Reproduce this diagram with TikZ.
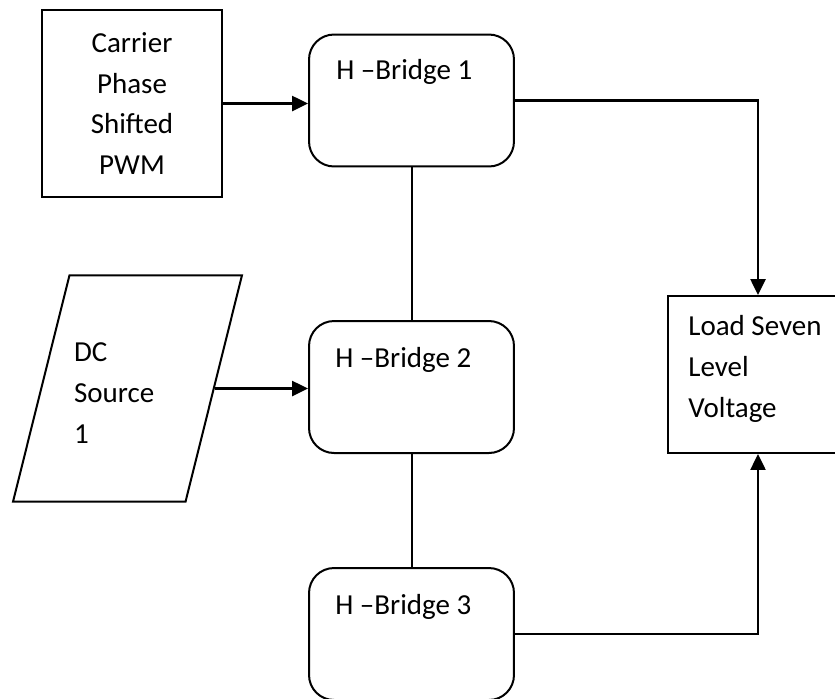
\documentclass[tikz,border=0pt]{standalone}
\usepackage{fontspec}
\setmainfont{Carlito}
\usetikzlibrary{shapes.geometric, arrows.meta, positioning}

\begin{document}
\begin{tikzpicture}[
  x=0.02cm, y=-0.02cm,
  every node/.style={font={\fontsize{16.5}{23.3}\selectfont}},
  blk/.style={draw, line width=0.04cm, inner sep=0pt},
  src/.style={blk, rectangle, minimum width=3.6cm, minimum height=3.74cm, align=center},
  bridge/.style={blk, rectangle, rounded corners=0.5cm, minimum width=4.1cm, minimum height=2.64cm},
  dcin/.style={blk, trapezium, trapezium left angle=76, trapezium right angle=104,
               trapezium stretches body=true, inner xsep=0pt, inner ysep=1.16cm,
               text height=0.57cm, minimum width=4.58cm, text width=2.14cm, align=left},
  ld/.style={blk, rectangle, minimum width=3.6cm, minimum height=3.14cm},
  txt/.style={inner sep=0pt, align=left},
  arr/.style={line width=0.05cm, -{Triangle[length=0.32cm, width=0.3cm]}},
  wire/.style={line width=0.04cm}
]
\useasboundingbox (0,0) rectangle (835,698);
\clip (0,0) rectangle (835,698);
% Inputs
\node[src]  (carrier) at (132,103.5) {Carrier\\Phase\\Shifted\\PWM};
\node[dcin] (dc)      at (127.5,388.5) {DC\\Source\\1};
% Bridges
\node[bridge] (hb1) at (411.5,100.5) {};
\node[bridge] (hb2) at (411.5,387) {};
\node[bridge] (hb3) at (411.5,634) {};
\node[txt, below right=0.52cm and 0.56cm of hb1.north west] (hb1txt) {H –Bridge 1};
\node[txt, below right=0.54cm and 0.54cm of hb2.north west] (hb2txt) {H –Bridge 2};
\node[txt, below right=0.54cm and 0.54cm of hb3.north west] (hb3txt) {H –Bridge 3};
% Load
\node[ld] (load) at (758,374.5) {};
\node[txt, below right=0.4cm and 0.42cm of load.north west] (loadtxt) {Load Seven\\Level\\Voltage};
% Connections
\draw[arr] (carrier.east) -- (carrier.east -| hb1.west);
\draw[arr] (dc.east) -- (dc.east -| hb2.west);
\draw[wire] (hb1.south) -- (hb2.north);
\draw[wire] (hb2.south) -- (hb3.north);
\draw[arr] (hb1.east) -| (load.north);
\draw[arr] (hb3.east) -| (load.south);
\end{tikzpicture}
\end{document}
